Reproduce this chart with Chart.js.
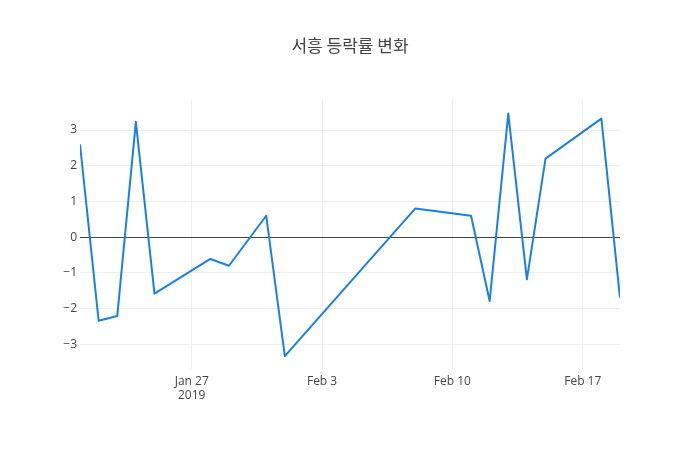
<!DOCTYPE html>
<html>
<head>
<meta charset="utf-8">
<script src="https://cdn.jsdelivr.net/npm/chart.js@4"></script>
<style>
  html, body { margin: 0; padding: 0; background: #fff; }
  #wrap { width: 700px; height: 450px; position: relative; }
</style>
</head>
<body>
<div id="wrap"><canvas id="rate-chart"></canvas></div>
<script>
// trading days and daily change (%)
const dates = ['2019-01-21', '2019-01-22', '2019-01-23', '2019-01-24', '2019-01-25',
    '2019-01-28', '2019-01-29', '2019-01-31', '2019-02-01', '2019-02-08',
    '2019-02-11', '2019-02-12', '2019-02-13', '2019-02-14', '2019-02-15',
    '2019-02-18', '2019-02-19'];
const changes = [2.60, -2.34, -2.21, 3.23, -1.58,
    -0.61, -0.80, 0.60, -3.33, 0.80,
    0.60, -1.79, 3.46, -1.18, 2.20,
    3.32, -1.70];
const tickDates = ['2019-01-27', '2019-02-03', '2019-02-10', '2019-02-17'];
const yTicks = [-3, -2, -1, 0, 1, 2, 3];
const MONTHS = ['Jan', 'Feb', 'Mar', 'Apr', 'May', 'Jun', 'Jul', 'Aug', 'Sep', 'Oct', 'Nov', 'Dec'];

/**
 * date string -> day number
 */
function toDay(s) {
    return Date.parse(s + 'T00:00:00Z') / 864e5;
}

/**
 * day number -> 'Jan 27' style label
 */
function dayLabel(v, i) {
    const d = new Date(v * 864e5);
    const txt = `${MONTHS[d.getUTCMonth()]} ${d.getUTCDate()}`;
    return i === 0 ? [txt, String(d.getUTCFullYear())] : txt;
}

const points = dates.map((d, i) => ({ x: toDay(d), y: changes[i] }));
const FONT = '"Open Sans", "Noto Sans", sans-serif';

const ctx = document.getElementById('rate-chart');
const myChart = new Chart(ctx, {
    type: 'line',
    data: {
        datasets: [{
            data: points,
            borderColor: '#1a7fe6',
            borderWidth: 2,
            borderJoinStyle: 'round',
            pointRadius: 0,
            tension: 0,
            fill: false
        }]
    },
    options: {
        responsive: true,
        maintainAspectRatio: false,
        animation: false,
        layout: { padding: 0 },
        plugins: {
            legend: { display: false },
            tooltip: { enabled: false },
            title: {
                display: true,
                text: '서흥 등락률 변화',
                color: '#444',
                font: { family: '"Noto Sans CJK KR", ' + FONT, size: 17, weight: 'normal' },
                padding: { top: 35, bottom: 45 }
            }
        },
        scales: {
            x: {
                type: 'linear',
                min: toDay(dates[0]),
                max: toDay(dates[dates.length - 1]),
                afterBuildTicks: (scale) => {
                    scale.ticks = tickDates.map(d => ({ value: toDay(d) }));
                },
                afterFit: (scale) => { scale.height = 80; },
                grid: { color: '#eeeeee', drawTicks: false },
                border: { display: false },
                ticks: {
                    color: '#444',
                    font: { family: FONT, size: 12 },
                    padding: 4,
                    maxRotation: 0,
                    callback: (v, i) => dayLabel(v, i)
                }
            },
            y: {
                min: -3.72,
                max: 3.83,
                afterBuildTicks: (scale) => {
                    scale.ticks = yTicks.map(v => ({ value: v }));
                },
                afterFit: (scale) => { scale.width = 80; },
                grid: {
                    drawTicks: false,
                    color: (c) => c.tick && c.tick.value === 0 ? '#444444' : '#eeeeee',
                    lineWidth: 1
                },
                border: { display: false },
                ticks: {
                    color: '#444',
                    font: { family: FONT, size: 12 },
                    padding: 3,
                    callback: (v) => v < 0 ? '\u2212' + Math.abs(v) : String(v)
                }
            },
            // empty right margin so the title centres on the page
            yRight: {
                position: 'right',
                min: -3.72,
                max: 3.83,
                afterFit: (scale) => { scale.width = 80; },
                grid: { display: false },
                border: { display: false },
                ticks: { display: false }
            }
        }
    }
});
</script>
</body>
</html>
